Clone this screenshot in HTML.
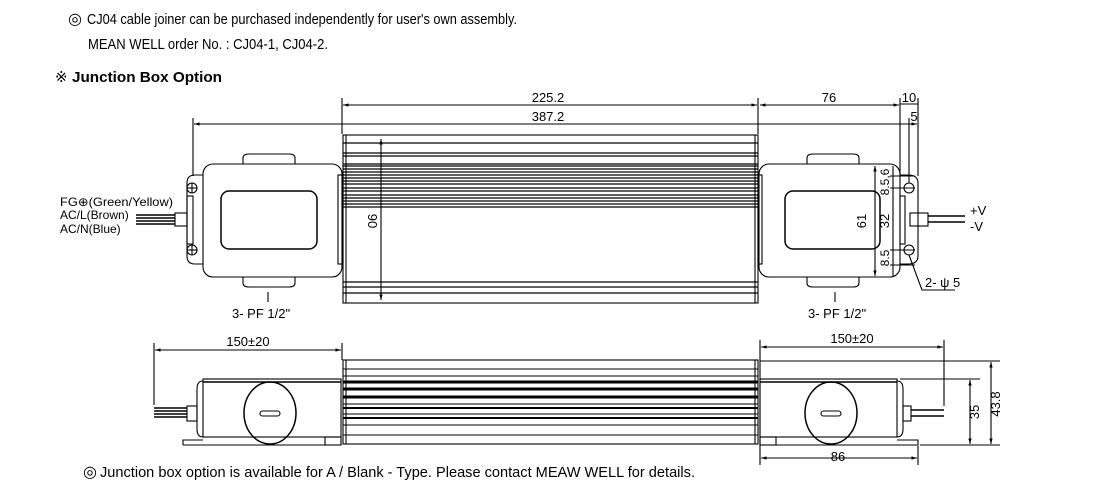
<!DOCTYPE html>
<html><head><meta charset="utf-8"><style>
html,body{margin:0;padding:0;background:#fff;}
svg{display:block;font-family:"Liberation Sans",sans-serif;}
</style></head><body>
<svg width="1100" height="498" viewBox="0 0 1100 498" xmlns="http://www.w3.org/2000/svg">
<defs>
<marker id="a" viewBox="0 0 10 10" refX="10" refY="5" markerWidth="7" markerHeight="5" orient="auto-start-reverse"><path d="M0,2 L10,5 L0,8z" fill="#000"/></marker>
</defs>
<g fill="#000" font-size="15">
<text x="68" y="24" font-size="16">◎</text>
<text x="87" y="24" textLength="430" lengthAdjust="spacingAndGlyphs">CJ04 cable joiner can be purchased independently for user's own assembly.</text>
<text x="88" y="49" textLength="240" lengthAdjust="spacingAndGlyphs">MEAN WELL order No. : CJ04-1, CJ04-2.</text>
<text x="55" y="82" font-size="15">※</text>
<text x="72" y="82" font-weight="bold" textLength="150" lengthAdjust="spacingAndGlyphs">Junction Box Option</text>
<text x="83" y="477" font-size="16">◎</text>
<text x="100" y="477" textLength="595" lengthAdjust="spacingAndGlyphs">Junction box option is available for  A / Blank - Type. Please contact MEAW WELL for details.</text>
</g>
<g stroke="#000" fill="none" stroke-width="1.1">
<rect x="343" y="135" width="415" height="168"/>
<line x1="346" y1="135" x2="346" y2="303"/><line x1="755" y1="135" x2="755" y2="303"/>
<g stroke-width="1.3">
<line x1="343" y1="143" x2="758" y2="143"/><line x1="343" y1="153" x2="758" y2="153"/><line x1="343" y1="156" x2="758" y2="156"/>
<line x1="343" y1="164" x2="758" y2="164"/><line x1="343" y1="166" x2="758" y2="166"/><line x1="343" y1="169" x2="758" y2="169"/>
<line x1="343" y1="172" x2="758" y2="172"/><line x1="343" y1="175" x2="758" y2="175"/><line x1="343" y1="178" x2="758" y2="178"/>
<line x1="343" y1="181" x2="758" y2="181"/><line x1="343" y1="184" x2="758" y2="184"/><line x1="343" y1="188" x2="758" y2="188"/>
<line x1="343" y1="191" x2="758" y2="191"/><line x1="343" y1="195" x2="758" y2="195"/><line x1="343" y1="198" x2="758" y2="198"/>
<line x1="343" y1="201" x2="758" y2="201"/><line x1="343" y1="204" x2="758" y2="204"/><line x1="343" y1="207" x2="758" y2="207"/>
<line x1="343" y1="282" x2="758" y2="282"/><line x1="343" y1="287" x2="758" y2="287"/><line x1="343" y1="293" x2="758" y2="293"/>
</g>
<line x1="381" y1="139" x2="381" y2="300" marker-start="url(#a)" marker-end="url(#a)"/>
<path d="M243,164 v-6 q0,-4 6,-4 h40 q6,0 6,4 v6 M243,277 v6 q0,4 6,4 h40 q6,0 6,-4 v-6"/>
<rect x="203" y="164" width="139" height="113" rx="10"/>
<rect x="221" y="191" width="96" height="58" rx="8" stroke-width="1.5"/>
<rect x="338" y="175" width="5" height="89"/>
<path d="M203,175 h-8 q-8,0 -8,8 v73 q0,8 8,8 h8"/>
<rect x="187" y="196" width="6" height="48"/>
<circle cx="192" cy="188" r="5"/><line x1="187" y1="188" x2="197" y2="188"/><line x1="192" y1="183" x2="192" y2="193"/>
<circle cx="192" cy="250" r="5"/><line x1="187" y1="250" x2="197" y2="250"/><line x1="192" y1="245" x2="192" y2="255"/>
<rect x="175" y="213" width="12" height="13"/>
<g stroke-width="1.4"><line x1="136" y1="215" x2="175" y2="215"/><line x1="136" y1="218" x2="175" y2="218"/><line x1="136" y1="221" x2="175" y2="221"/><line x1="136" y1="224" x2="175" y2="224"/></g>
<line x1="268" y1="292" x2="268" y2="302"/>
<path d="M807,164 v-6 q0,-4 6,-4 h40 q6,0 6,4 v6 M807,277 v6 q0,4 6,4 h40 q6,0 6,-4 v-6"/>
<rect x="759" y="164" width="141" height="113" rx="10"/>
<rect x="785" y="191" width="95" height="58" rx="8" stroke-width="1.5"/>
<rect x="758" y="175" width="4" height="89"/>
<path d="M900,175 h8 q10,0 10,8 v73 q0,8 -10,8 h-8"/>
<rect x="900" y="196" width="5" height="48"/>
<circle cx="909" cy="188" r="5"/><circle cx="909" cy="250" r="5"/>
<rect x="910" y="213" width="18" height="13"/>
<g stroke-width="1.4"><line x1="928" y1="216" x2="965" y2="216"/><line x1="928" y1="222" x2="965" y2="222"/></g>
<line x1="835" y1="292" x2="835" y2="302"/>
<line x1="875" y1="166" x2="875" y2="276" marker-start="url(#a)" marker-end="url(#a)"/>
<line x1="893" y1="166" x2="893" y2="276"/>
<line x1="890" y1="176" x2="915" y2="176"/><line x1="890" y1="188" x2="915" y2="188"/><line x1="890" y1="250" x2="915" y2="250"/><line x1="890" y1="265" x2="915" y2="265"/>
<path d="M909,255 L922,290 H955"/>
<line x1="342" y1="98" x2="342" y2="134"/><line x1="758" y1="98" x2="758" y2="134"/>
<line x1="193" y1="118" x2="193" y2="176"/>
<line x1="900" y1="98" x2="900" y2="176"/><line x1="918" y1="98" x2="918" y2="176"/><line x1="909" y1="118" x2="909" y2="183"/>
<line x1="343" y1="105" x2="757" y2="105" marker-start="url(#a)" marker-end="url(#a)"/>
<line x1="760" y1="105" x2="899" y2="105" marker-start="url(#a)" marker-end="url(#a)"/>
<line x1="900" y1="104" x2="918" y2="104"/>
<line x1="194" y1="124" x2="917" y2="124" marker-start="url(#a)" marker-end="url(#a)"/>
<rect x="343" y="360" width="415" height="84"/>
<line x1="346" y1="360" x2="346" y2="444"/><line x1="755" y1="360" x2="755" y2="444"/>
<line x1="343" y1="369" x2="758" y2="369"/><line x1="343" y1="376" x2="758" y2="376"/>
<line x1="343" y1="382" x2="758" y2="382" stroke-width="3"/><line x1="343" y1="389" x2="758" y2="389" stroke-width="3"/><line x1="343" y1="397" x2="758" y2="397" stroke-width="3"/>
<line x1="343" y1="404" x2="758" y2="404"/><line x1="343" y1="408" x2="758" y2="408" stroke-width="2"/><line x1="343" y1="414" x2="758" y2="414"/>
<line x1="343" y1="418" x2="758" y2="418" stroke-width="2"/><line x1="343" y1="425" x2="758" y2="425"/><line x1="343" y1="435" x2="758" y2="435"/>
<path d="M203,381 q-6,0 -6,8 v40 q0,8 6,8"/>
<rect x="203" y="379" width="138" height="58"/>
<line x1="203" y1="382" x2="341" y2="382" stroke-width="1.6"/>
<path d="M183,445 v-5 h20 M341,440 v5 H183"/>
<rect x="325" y="437" width="16" height="8"/>
<ellipse cx="270" cy="413" rx="26" ry="31" stroke-width="1.5"/>
<rect x="260" y="411" width="20" height="5" rx="2.5"/>
<rect x="187" y="406" width="10" height="15"/>
<g stroke-width="1.4"><line x1="154" y1="408" x2="187" y2="408"/><line x1="154" y1="411" x2="187" y2="411"/><line x1="154" y1="414" x2="187" y2="414"/><line x1="154" y1="417" x2="187" y2="417"/></g>
<line x1="154" y1="343" x2="154" y2="405"/><line x1="342" y1="343" x2="342" y2="360"/>
<line x1="155" y1="350" x2="341" y2="350" marker-start="url(#a)" marker-end="url(#a)"/>
<path d="M897,381 q6,0 6,8 v40 q0,8 -6,8"/>
<rect x="760" y="379" width="137" height="58"/>
<line x1="760" y1="382" x2="897" y2="382" stroke-width="1.6"/>
<path d="M760,445 h158 v-5 h-21"/>
<rect x="760" y="437" width="16" height="8"/>
<ellipse cx="831" cy="413" rx="26" ry="31" stroke-width="1.5"/>
<rect x="821" y="411" width="20" height="5" rx="2.5"/>
<rect x="903" y="406" width="8" height="15"/>
<g stroke-width="1.4"><line x1="911" y1="410" x2="944" y2="410"/><line x1="911" y1="416" x2="944" y2="416"/></g>
<line x1="944" y1="340" x2="944" y2="406"/><line x1="760" y1="340" x2="760" y2="465"/>
<line x1="761" y1="347" x2="943" y2="347" marker-start="url(#a)" marker-end="url(#a)"/>
<line x1="918" y1="446" x2="918" y2="465"/>
<line x1="761" y1="458" x2="917" y2="458" marker-start="url(#a)" marker-end="url(#a)"/>
<line x1="760" y1="361" x2="1000" y2="361"/><line x1="920" y1="445" x2="1000" y2="445"/><line x1="900" y1="379" x2="980" y2="379"/>
<line x1="970" y1="380" x2="970" y2="444" marker-start="url(#a)" marker-end="url(#a)"/>
<line x1="991" y1="362" x2="991" y2="444" marker-start="url(#a)" marker-end="url(#a)"/>
</g>
<g fill="#000" font-size="13">
<text x="548" y="102" text-anchor="middle">225.2</text>
<text x="548" y="121" text-anchor="middle">387.2</text>
<text x="829" y="102" text-anchor="middle">76</text>
<text x="909" y="102" text-anchor="middle">10</text>
<text x="914" y="121" text-anchor="middle">5</text>
<text x="60" y="206" font-size="12" textLength="113" lengthAdjust="spacingAndGlyphs">FG⊕(Green/Yellow)</text>
<text x="60" y="219" font-size="12">AC/L(Brown)</text>
<text x="60" y="233" font-size="12">AC/N(Blue)</text>
<text x="232" y="318">3- PF 1/2"</text>
<text x="808" y="318">3- PF 1/2"</text>
<text x="970" y="215">+V</text>
<text x="970" y="231">-V</text>
<text x="925" y="287">2- ψ 5</text>
<text transform="translate(368,221) rotate(90)" text-anchor="middle">90</text>
<text transform="translate(866,221) rotate(-90)" text-anchor="middle">61</text>
<text transform="translate(889,221) rotate(-90)" text-anchor="middle">32</text>
<text transform="translate(889,182) rotate(-90)" text-anchor="middle" font-size="12">8.5,6</text>
<text transform="translate(889,258) rotate(-90)" text-anchor="middle" font-size="12">8.5</text>
<text x="248" y="346" text-anchor="middle">150±20</text>
<text x="852" y="343" text-anchor="middle">150±20</text>
<text x="838" y="461" text-anchor="middle">86</text>
<text transform="translate(979,412) rotate(-90)" text-anchor="middle">35</text>
<text transform="translate(1000,404) rotate(-90)" text-anchor="middle">43.8</text>
</g>
</svg>
</body></html>
